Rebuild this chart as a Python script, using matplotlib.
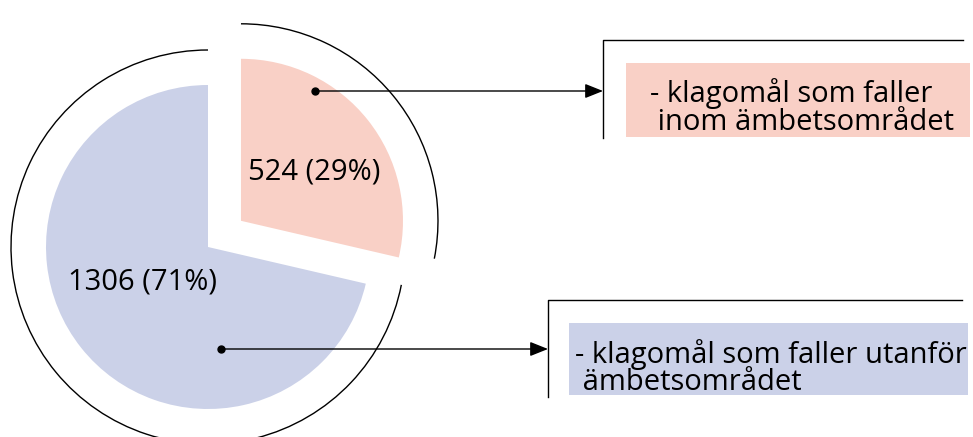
import matplotlib.pyplot as plt
from matplotlib.patches import Arc, Rectangle

plt.rcParams['font.family'] = ['Open Sans', 'DejaVu Sans']

# data
counts = [524, 1306]
colors = ['#F9D0C6', '#CBD1E8']
legend_lines = [['- klagomål som faller', ' inom ämbetsområdet'],
                ['- klagomål som faller utanför', ' ämbetsområdet']]

total = sum(counts)
pct = [round(100 * c / total) for c in counts]
labels = ['%d (%d%%)' % (c, p) for c, p in zip(counts, pct)]

fig = plt.figure(figsize=(9.73, 4.37), dpi=100)
ax = fig.add_axes([0, 0, 1, 1])

center = (208, 190)
r = 162
# explode offset in pie is in data units, not in radii
wedges, _ = ax.pie(counts, colors=colors, startangle=90, counterclock=False,
                   explode=[0.26 * r, 0], radius=r, center=center,
                   wedgeprops=dict(linewidth=0))
ax.set_xlim(0, 973)
ax.set_ylim(0, 437)
ax.set_aspect('equal')
ax.axis('off')

# outer arcs around every slice (the lower end sits ~2 deg further round)
b = 90 - 360 * counts[0] / total + 2
arc_angles = [(b, 90), (90, 360 + b)]
for w, (t1, t2) in zip(wedges, arc_angles):
    ax.add_patch(Arc(w.center, 2 * 197, 2 * 197, theta1=t1, theta2=t2,
                     color='black', lw=1))

# value labels
ax.text(314, 265, labels[0], ha='center', va='center', fontsize=21)
ax.text(142, 155, labels[1], ha='center', va='center', fontsize=21)

# legend boxes with brackets and arrows
boxes = [
    dict(dot=(315, 346), bx=603, by0=299, by1=397, hx=963,
         rect=(626, 300, 344, 74), text=[(650, 335), (650, 307)]),
    dict(dot=(221, 88), bx=548, by0=40, by1=137, hx=962,
         rect=(569, 42, 399, 72), text=[(575, 74), (575, 47)]),
]
for i, bx in enumerate(boxes):
    ax.plot([bx['bx'], bx['bx'], bx['hx']], [bx['by0'], bx['by1'], bx['by1']],
            color='black', lw=1)
    x, y, wd, ht = bx['rect']
    ax.add_patch(Rectangle((x, y), wd, ht, facecolor=colors[i], edgecolor='none'))
    for (tx, ty), line in zip(bx['text'], legend_lines[i]):
        ax.text(tx, ty, line, ha='left', va='baseline', fontsize=21)
    ax.plot(*bx['dot'], 'o', color='black', markersize=5)
    ax.annotate('', xy=(bx['bx'], bx['dot'][1]), xytext=bx['dot'],
                arrowprops=dict(arrowstyle='-|>,head_length=0.55,head_width=0.22',
                                mutation_scale=20, color='black', lw=1,
                                shrinkA=0, shrinkB=0))

fig.savefig('out.png', dpi=100)
